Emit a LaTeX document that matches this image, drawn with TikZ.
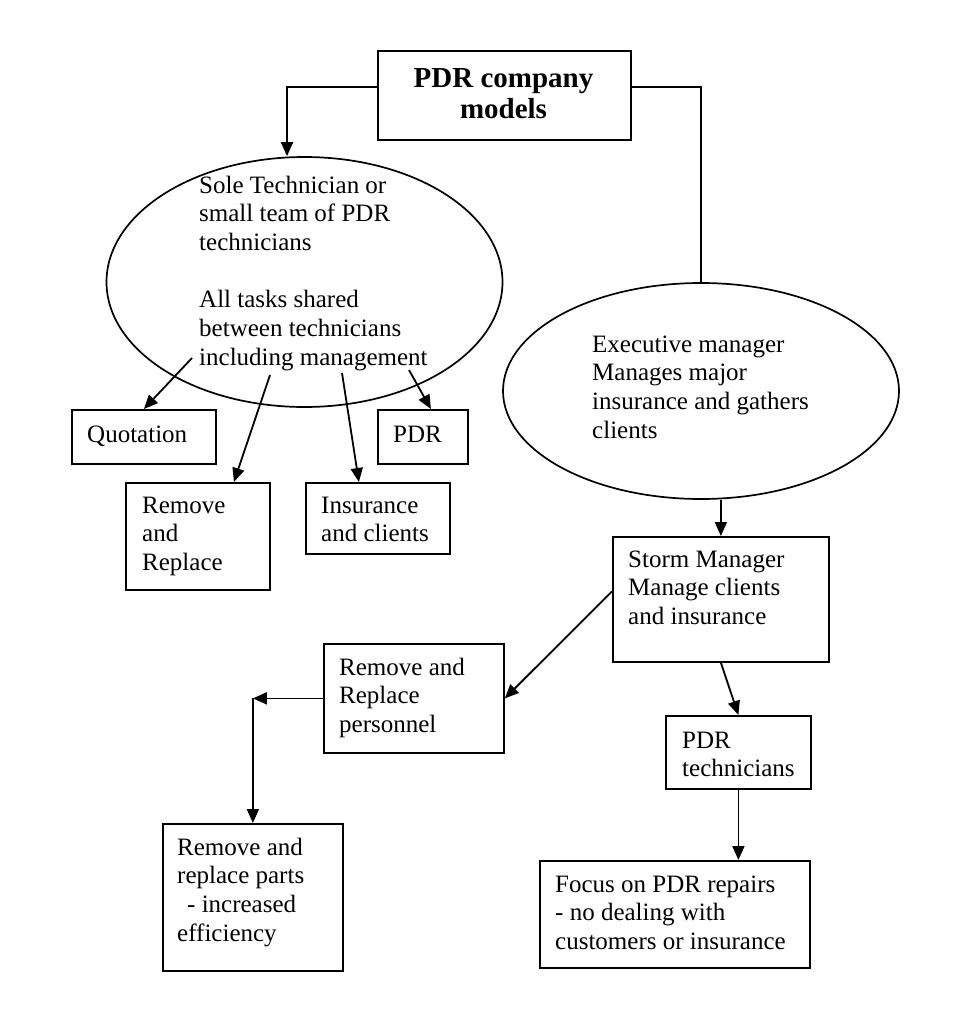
\documentclass[tikz,border=0pt]{standalone}
\usepackage{fontspec}
\setmainfont{Liberation Serif}
\usetikzlibrary{shapes.geometric,arrows.meta,calc}
\newcommand{\mylines}[1]{\begin{tabular}[t]{@{}l@{}}#1\end{tabular}}
\newcommand{\mytitle}[1]{\begin{tabular}[t]{@{}c@{}}#1\end{tabular}}
\begin{document}
\begin{tikzpicture}[x=1pt,y=-1pt,
  box/.style={draw, line width=1.8pt, inner sep=0pt, anchor=north west},
  oval/.style={draw, ellipse, line width=1.7pt, inner sep=0pt},
  txt/.style={anchor=base west, inner sep=0pt, font=\fontsize{25}{28.7}\selectfont},
  ttl/.style={anchor=base, inner sep=0pt, font=\bfseries\fontsize{29}{31}\selectfont},
  arr/.style={-{Triangle[length=14pt,width=12pt]}, line width=1.8pt},
  ln/.style={line width=1.8pt}]
\useasboundingbox (0,0) rectangle (969,1020);

% shapes
\node[box, minimum width=253pt, minimum height=89pt] (top) at (377,50) {};
\node[oval, minimum width=396pt, minimum height=250pt] (sole) at (304.5,282) {};
\node[oval, minimum width=396pt, minimum height=216pt] (exec) at (701,391) {};
\node[box, minimum width=144pt, minimum height=54pt] (quot) at (71,409) {};
\node[box, minimum width=90pt, minimum height=54pt] (pdr) at (377,409) {};
\node[box, minimum width=144pt, minimum height=107pt] (rr) at (125,482) {};
\node[box, minimum width=144pt, minimum height=71pt] (ins) at (305,482) {};
\node[box, minimum width=216pt, minimum height=125pt] (storm) at (612,536) {};
\node[box, minimum width=180pt, minimum height=109pt] (pers) at (323,643) {};
\node[box, minimum width=145pt, minimum height=73pt] (tech) at (665,715) {};
\node[box, minimum width=180pt, minimum height=147pt] (parts) at (162,823) {};
\node[box, minimum width=270pt, minimum height=107pt] (focus) at (539,860) {};

% texts
\node[ttl] (ttop) at (503.5,87) {\mytitle{PDR company\\models}};
\node[txt] (tsole) at (199,193) {\mylines{Sole Technician or\\small team of PDR\\technicians\\ \\All tasks shared\\between technicians\\including management}};
\node[txt] (texec) at (592,352) {\mylines{Executive manager\\Manages major\\insurance and gathers\\clients}};
\node[txt] (tquot) at (87,442) {Quotation};
\node[txt] (tpdr) at (393,442) {PDR};
\node[txt] (trr) at (142,513) {\mylines{Remove\\and\\Replace}};
\node[txt] (tins) at (321,513) {\mylines{Insurance\\and clients}};
\node[txt] (tstorm) at (628,567) {\mylines{Storm Manager\\Manage clients\\and insurance}};
\node[txt] (tpers) at (339,675) {\mylines{Remove and\\Replace\\personnel}};
\node[txt] (ttech) at (682,748) {\mylines{PDR\\technicians}};
\node[txt] (tparts) at (177,855) {\mylines{Remove and\\replace parts\\\hspace*{10pt}- increased\\efficiency}};
\node[txt] (tfocus) at (555,892) {\mylines{Focus on PDR repairs\\- no dealing with\\customers or insurance}};

% connectors
\coordinate (tl) at (287,87);
\coordinate (tr) at (701,87);
\draw[arr] (top.west |- tl) -- (tl) -- (tl |- sole.north);
\draw[ln] (top.east |- tr) -- (tr) -- (exec.north);

\coordinate (s1) at (192,358);
\coordinate (s2) at (270,375);
\coordinate (s3) at (342,373);
\coordinate (s4) at (409,370);
\draw[arr] (s1) -- (quot.north);
\draw[arr] (s2) -- ($(rr.north)+(36,0)$);
\draw[arr] (s3) -- ($(ins.north)+(-19,0)$);
\draw[arr] (s4) -- ($(pdr.north)+(8,0)$);

\draw[arr] (storm.north |- exec.south) -- (storm.north);
\draw[arr] ($(storm.west)+(0,-8)$) -- (pers.east);
\coordinate (corner) at (parts.north |- pers.west);
\draw[arr] (pers.west) -- (corner);
\draw[arr] (corner) -- (parts.north);
\draw[arr] (storm.south) -- (tech.north);
\draw[arr] (tech.south) -- (tech.south |- focus.north);
\end{tikzpicture}
\end{document}
